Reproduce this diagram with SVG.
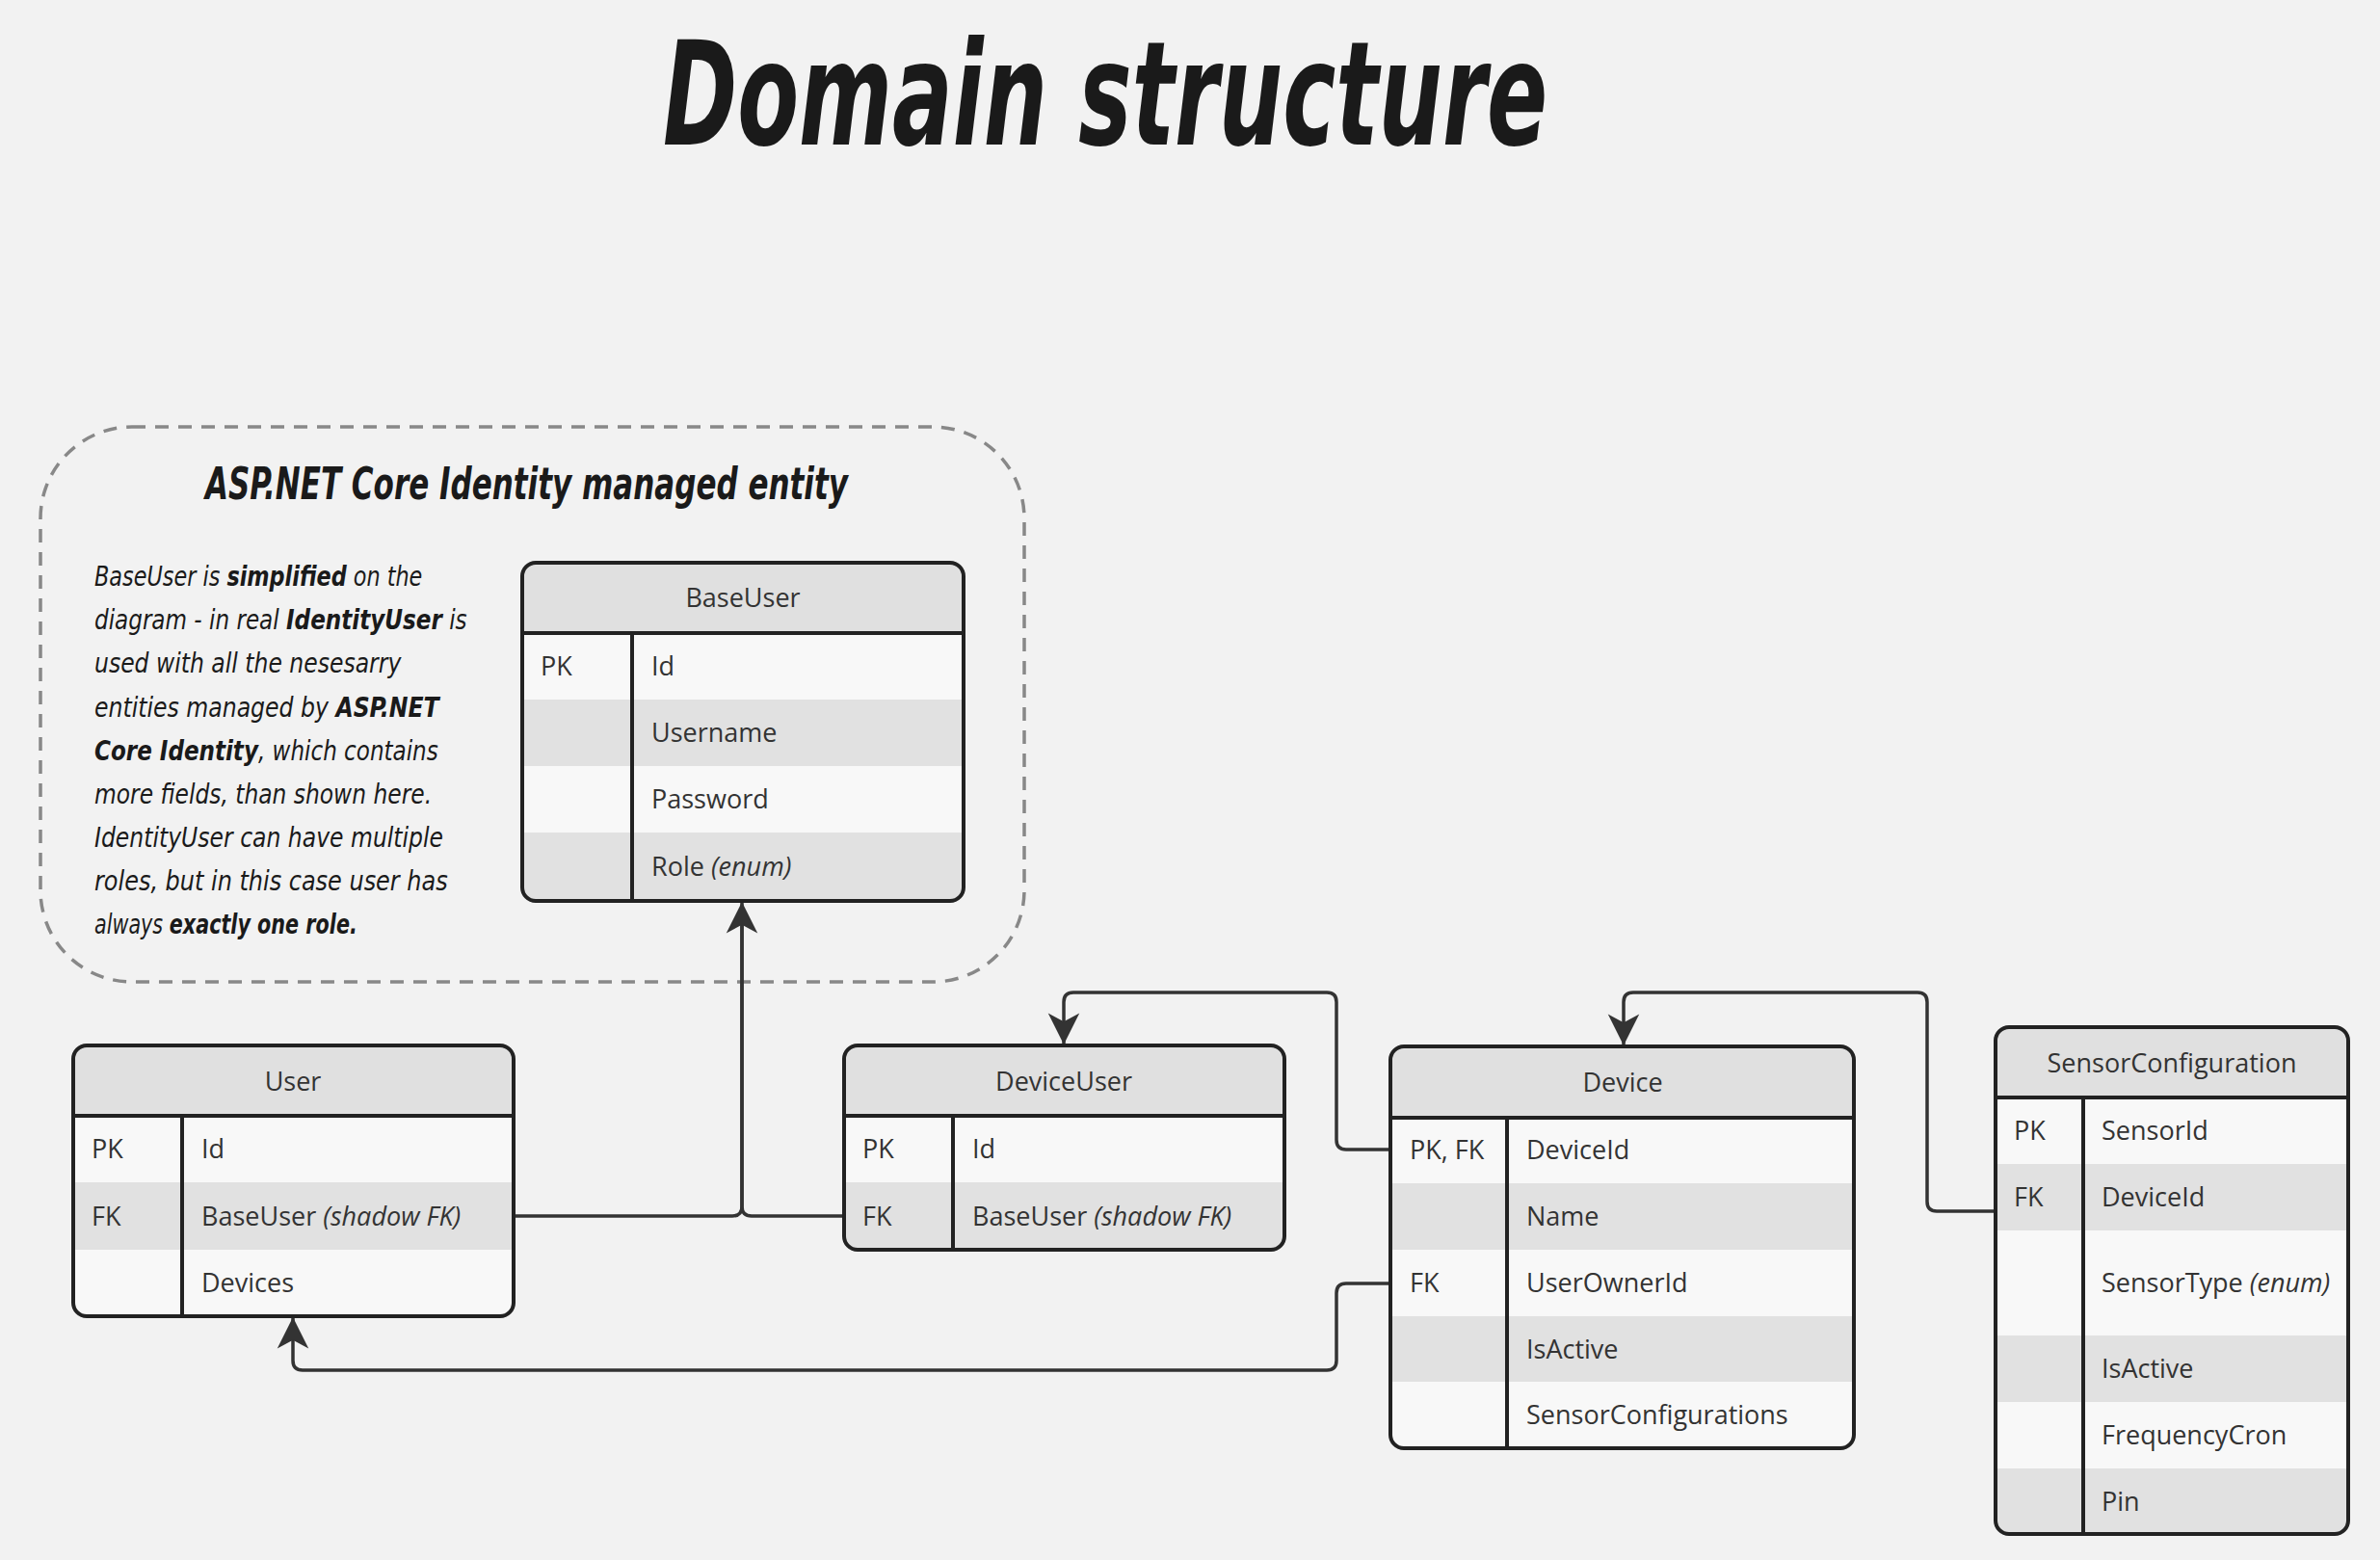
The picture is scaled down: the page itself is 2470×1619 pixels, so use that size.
<svg xmlns="http://www.w3.org/2000/svg" width="2470" height="1619" viewBox="0 0 2470 1619">
<style>
.hand{font-family:"DejaVu Sans",sans-serif;font-style:italic;fill:#1a1a1a}
.t{font-family:"Open Sans","Noto Sans",sans-serif;font-size:27px;fill:#333}
.hd{text-anchor:middle}
.em{font-style:italic}
.b{font-weight:bold}
.head{fill:#e0e0e0}
.lt{fill:#f8f8f8}
.dk{fill:#e1e1e1}
.frame{fill:none;stroke:#222;stroke-width:4}
.ln{stroke:#222;stroke-width:4}
.conn{fill:none;stroke:#333;stroke-width:3.5;stroke-linejoin:round}
</style>
<defs>
<marker id="arr" markerUnits="userSpaceOnUse" markerWidth="40" markerHeight="40" viewBox="-30 -16 32 32" refX="0" refY="0" orient="auto">
<path d="M0,0 L-26,-13 L-19,0 L-26,13 Z" fill="#333"/>
</marker>
<clipPath id="cBase"><rect x="542" y="584" width="458" height="351" rx="14"/></clipPath>
<clipPath id="cUser"><rect x="76" y="1085" width="457" height="281" rx="14"/></clipPath>
<clipPath id="cDU"><rect x="876" y="1085" width="457" height="212" rx="14"/></clipPath>
<clipPath id="cDev"><rect x="1443" y="1086" width="481" height="417" rx="14"/></clipPath>
<clipPath id="cSC"><rect x="2071" y="1066" width="366" height="526" rx="14"/></clipPath>
</defs>
<rect width="2470" height="1619" fill="#f2f2f2"/>

<text class="hand" font-weight="600" x="688" y="150" font-size="150" textLength="918" lengthAdjust="spacingAndGlyphs">Domain structure</text>

<g id="identity-group">
<rect x="42" y="443" width="1021" height="576" rx="95" fill="none" stroke="#888" stroke-width="3.5" stroke-dasharray="14 10"/>
<text class="hand b" x="213" y="518" font-size="46" textLength="667" lengthAdjust="spacingAndGlyphs">ASP.NET Core Identity managed entity</text>
<g class="hand" font-size="28">
<text transform="translate(98,608) scale(0.798,1)">BaseUser is <tspan class="b">simplified</tspan> on the</text>
<text transform="translate(98,653) scale(0.825,1)">diagram - in real <tspan class="b">IdentityUser</tspan> is</text>
<text transform="translate(98,698) scale(0.84,1)">used with all the nesesarry</text>
<text transform="translate(98,744) scale(0.842,1)">entities managed by <tspan class="b">ASP.NET</tspan></text>
<text transform="translate(98,789) scale(0.824,1)"><tspan class="b">Core Identity</tspan>, which contains</text>
<text transform="translate(98,834) scale(0.835,1)">more fields, than shown here.</text>
<text transform="translate(98,879) scale(0.84,1)">IdentityUser can have multiple</text>
<text transform="translate(98,924) scale(0.856,1)">roles, but in this case user has</text>
<text transform="translate(98,969) scale(0.74,1)">always <tspan class="b">exactly one role.</tspan></text>
</g>
</g>

<g id="connectors">
<path class="conn" d="M876,1262 H780 Q770,1262 770,1252 V940"/>
<path class="conn" d="M533,1262 H760 Q770,1262 770,1252 V936" marker-end="url(#arr)"/>
<path class="conn" d="M1443,1193 H1397 Q1387,1193 1387,1183 V1040 Q1387,1030 1377,1030 H1114 Q1104,1030 1104,1040 V1084" marker-end="url(#arr)"/>
<path class="conn" d="M2071,1257 H2010 Q2000,1257 2000,1247 V1040 Q2000,1030 1990,1030 H1695 Q1685,1030 1685,1040 V1085" marker-end="url(#arr)"/>
<path class="conn" d="M1443,1332 H1397 Q1387,1332 1387,1342 V1412 Q1387,1422 1377,1422 H314 Q304,1422 304,1412 V1367" marker-end="url(#arr)"/>
</g>

<g id="BaseUser">
<g clip-path="url(#cBase)">
<rect class="head" x="542" y="584" width="458" height="73"/>
<rect class="lt" x="542" y="657" width="458" height="69"/>
<rect class="dk" x="542" y="726" width="458" height="69"/>
<rect class="lt" x="542" y="795" width="458" height="69"/>
<rect class="dk" x="542" y="864" width="458" height="71"/>
</g>
<line class="ln" x1="542" y1="657" x2="1000" y2="657"/>
<line class="ln" x1="656" y1="657" x2="656" y2="935"/>
<rect class="frame" x="542" y="584" width="458" height="351" rx="14"/>
<text class="t hd" x="771" y="630">BaseUser</text>
<text class="t" x="561" y="701">PK</text>
<text class="t" x="676" y="701">Id</text>
<text class="t" x="676" y="770">Username</text>
<text class="t" x="676" y="839">Password</text>
<text class="t" x="676" y="909">Role <tspan class="em">(enum)</tspan></text>
</g>

<g id="User">
<g clip-path="url(#cUser)">
<rect class="head" x="76" y="1085" width="457" height="73"/>
<rect class="lt" x="76" y="1158" width="457" height="69"/>
<rect class="dk" x="76" y="1227" width="457" height="70"/>
<rect class="lt" x="76" y="1297" width="457" height="69"/>
</g>
<line class="ln" x1="76" y1="1158" x2="533" y2="1158"/>
<line class="ln" x1="189" y1="1158" x2="189" y2="1366"/>
<rect class="frame" x="76" y="1085" width="457" height="281" rx="14"/>
<text class="t hd" x="304" y="1132">User</text>
<text class="t" x="95" y="1202">PK</text>
<text class="t" x="209" y="1202">Id</text>
<text class="t" x="95" y="1272">FK</text>
<text class="t" x="209" y="1272">BaseUser <tspan class="em">(shadow FK)</tspan></text>
<text class="t" x="209" y="1341">Devices</text>
</g>

<g id="DeviceUser">
<g clip-path="url(#cDU)">
<rect class="head" x="876" y="1085" width="457" height="73"/>
<rect class="lt" x="876" y="1158" width="457" height="69"/>
<rect class="dk" x="876" y="1227" width="457" height="70"/>
</g>
<line class="ln" x1="876" y1="1158" x2="1333" y2="1158"/>
<line class="ln" x1="989" y1="1158" x2="989" y2="1297"/>
<rect class="frame" x="876" y="1085" width="457" height="212" rx="14"/>
<text class="t hd" x="1104" y="1132">DeviceUser</text>
<text class="t" x="895" y="1202">PK</text>
<text class="t" x="1009" y="1202">Id</text>
<text class="t" x="895" y="1272">FK</text>
<text class="t" x="1009" y="1272">BaseUser <tspan class="em">(shadow FK)</tspan></text>
</g>

<g id="Device">
<g clip-path="url(#cDev)">
<rect class="head" x="1443" y="1086" width="481" height="74"/>
<rect class="lt" x="1443" y="1160" width="481" height="68"/>
<rect class="dk" x="1443" y="1228" width="481" height="69"/>
<rect class="lt" x="1443" y="1297" width="481" height="69"/>
<rect class="dk" x="1443" y="1366" width="481" height="68"/>
<rect class="lt" x="1443" y="1434" width="481" height="69"/>
</g>
<line class="ln" x1="1443" y1="1160" x2="1924" y2="1160"/>
<line class="ln" x1="1564" y1="1160" x2="1564" y2="1503"/>
<rect class="frame" x="1443" y="1086" width="481" height="417" rx="14"/>
<text class="t hd" x="1684" y="1133">Device</text>
<text class="t" x="1463" y="1203">PK, FK</text>
<text class="t" x="1584" y="1203">DeviceId</text>
<text class="t" x="1584" y="1272">Name</text>
<text class="t" x="1463" y="1341">FK</text>
<text class="t" x="1584" y="1341">UserOwnerId</text>
<text class="t" x="1584" y="1410">IsActive</text>
<text class="t" x="1584" y="1478">SensorConfigurations</text>
</g>

<g id="SensorConfiguration">
<g clip-path="url(#cSC)">
<rect class="head" x="2071" y="1066" width="366" height="73"/>
<rect class="lt" x="2071" y="1139" width="366" height="69"/>
<rect class="dk" x="2071" y="1208" width="366" height="69"/>
<rect class="lt" x="2071" y="1277" width="366" height="109"/>
<rect class="dk" x="2071" y="1386" width="366" height="69"/>
<rect class="lt" x="2071" y="1455" width="366" height="69"/>
<rect class="dk" x="2071" y="1524" width="366" height="68"/>
</g>
<line class="ln" x1="2071" y1="1139" x2="2437" y2="1139"/>
<line class="ln" x1="2162" y1="1139" x2="2162" y2="1592"/>
<rect class="frame" x="2071" y="1066" width="366" height="526" rx="14"/>
<text class="t hd" x="2254" y="1113">SensorConfiguration</text>
<text class="t" x="2090" y="1183">PK</text>
<text class="t" x="2181" y="1183">SensorId</text>
<text class="t" x="2090" y="1252">FK</text>
<text class="t" x="2181" y="1252">DeviceId</text>
<text class="t" x="2181" y="1341">SensorType <tspan class="em">(enum)</tspan></text>
<text class="t" x="2181" y="1430">IsActive</text>
<text class="t" x="2181" y="1499">FrequencyCron</text>
<text class="t" x="2181" y="1568">Pin</text>
</g>
</svg>
